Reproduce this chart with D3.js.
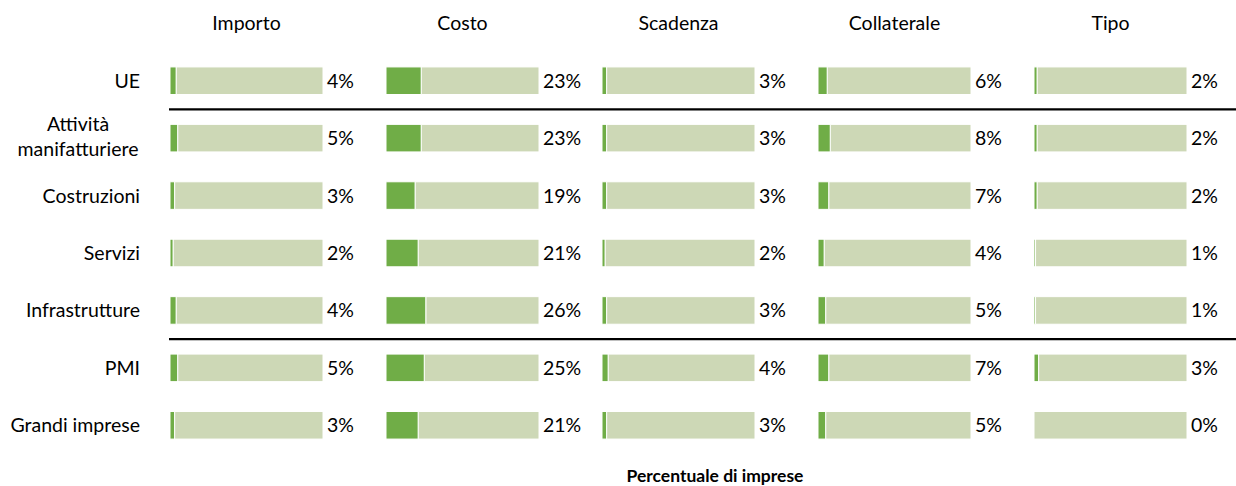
<!DOCTYPE html>
<html>
<head>
<meta charset="utf-8">
<script src="https://cdn.jsdelivr.net/npm/d3@7/dist/d3.min.js"></script>
<style>
  html, body { margin: 0; padding: 0; background: #fff; }
  svg text { font-family: Lato, "Open Sans", sans-serif; fill: #000; }
</style>
</head>
<body>
<svg id="chart" width="1236" height="486"></svg>
<script>
// Share of firms reporting a tightening, by loan condition and group
const rows = ["UE", "Attività\nmanifatturiere", "Costruzioni", "Servizi", "Infrastrutture", "PMI", "Grandi imprese"];
const panels = ["Importo", "Costo", "Scadenza", "Collaterale", "Tipo"];
const importo     = [4, 5, 3, 2, 4, 5, 3];
const costo       = [23, 23, 19, 21, 26, 25, 21];
const scadenza    = [3, 3, 3, 2, 3, 4, 3];
const collaterale = [6, 8, 7, 4, 5, 7, 5];
const tipo        = [2, 2, 2, 1, 1, 3, 0];
const seriesByPanel = [importo, costo, scadenza, collaterale, tipo];
const separatorsAfter = ["UE", "Infrastrutture"];

const svg = d3.select("#chart");
const W = 1236;
const FS = "19.5px";

const panelScale = d3.scaleBand().domain(panels).range([170, 1250]).paddingInner(0).paddingOuter(0);
const y = d3.scaleBand().domain(rows).range([52, 454]).paddingInner(0.52).paddingOuter(0.26);
const barW = 153;
const x = d3.scaleLinear().domain([0, 100]).range([0, barW]);

const dark = "#70AD47", light = "#CDD8B6";

// row labels
const rowLabels = svg.append("g");
rows.forEach(r => {
  const lines = r.split("\n");
  const cy = y(r) + y.bandwidth() / 2;
  const t = rowLabels.append("text").style("font-size", FS);
  if (lines.length > 1) {
    t.attr("text-anchor", "middle");
    lines.forEach((l, i) => {
      t.append("tspan").attr("x", 78).attr("y", cy + (i - (lines.length - 1) / 2) * 25 + 5).text(l);
    });
  } else {
    t.attr("text-anchor", "end").attr("x", 140).attr("y", cy + 7).text(r);
  }
});

// separator lines between groups
separatorsAfter.forEach(r => {
  const i = rows.indexOf(r);
  const yy = (y(rows[i]) + y.bandwidth() + y(rows[i + 1])) / 2;
  svg.append("line").attr("x1", 169).attr("x2", W).attr("y1", yy).attr("y2", yy)
    .attr("stroke", "#000").attr("stroke-width", 2.2);
});

panels.forEach((p, pi) => {
  const vals = seriesByPanel[pi];
  const x0 = panelScale(p);
  const g = svg.append("g").attr("transform", `translate(${x0},0)`);

  g.append("text").attr("x", barW / 2).attr("y", 30)
    .attr("text-anchor", "middle").style("font-size", FS).text(p);

  rows.forEach((r, ri) => {
    const v = vals[ri];
    const yy = y(r), h = y.bandwidth();
    // remainder first, then the value segment
    g.append("rect").attr("x", x(v)).attr("y", yy).attr("width", x(100) - x(v)).attr("height", h)
      .attr("fill", light).attr("stroke", "#fff").attr("stroke-width", 1);
    if (v > 0) {
      g.append("rect").attr("x", x(0)).attr("y", yy).attr("width", x(v)).attr("height", h)
        .attr("fill", dark).attr("stroke", "#fff").attr("stroke-width", 1);
    }
    g.append("text").attr("x", x(100) + 4).attr("y", yy + h / 2 + 7)
      .style("font-size", FS).text(v + "%");
  });
});

svg.append("text").attr("x", 715).attr("y", 482).attr("text-anchor", "middle")
  .style("font-size", "17.5px").style("font-weight", "bold").text("Percentuale di imprese");
</script>
</body>
</html>
